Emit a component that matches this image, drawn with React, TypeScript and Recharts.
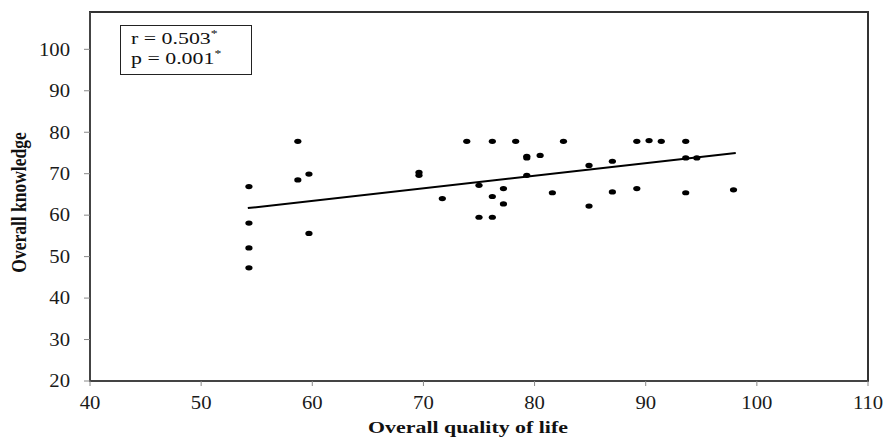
import React from "react";
import {
  Label,
  ReferenceArea,
  Scatter,
  ScatterChart,
  XAxis,
  YAxis,
} from "recharts";

// Overall quality of life (x) vs overall knowledge (y), one entry per participant
const qolValues = [
  54.3, 54.3, 54.3, 54.3, 58.7, 58.7, 59.7, 59.7, 69.6, 69.6, 71.7, 73.9,
  75.0, 75.0, 76.2, 76.2, 76.2, 77.2, 77.2, 78.3, 79.3, 79.3, 79.3, 80.5, 81.6,
  82.6, 84.9, 84.9, 87.0, 87.0, 89.2, 89.2, 90.3, 91.4, 93.6, 93.6, 93.6, 94.6,
  97.9,
];
const knowledgeValues = [
  66.9, 58.1, 52.1, 47.3, 77.8, 68.5, 69.9, 55.6, 70.3, 69.6, 64.0, 77.8, 67.2,
  59.5, 77.8, 64.5, 59.5, 66.4, 62.7, 77.8, 74.2, 73.8, 69.6, 74.4, 65.4, 77.8,
  72.0, 62.2, 73.0, 65.6, 77.8, 66.4, 78.0, 77.8, 77.8, 73.8, 65.4, 73.8, 66.1,
];

// fitted regression line end points
const trendX = [54.2, 98.1];
const trendY = [61.7, 75.0];

const xTicks = [40, 50, 60, 70, 80, 90, 100, 110];
const yTicks = [20, 30, 40, 50, 60, 70, 80, 90, 100];

const points = qolValues.map((x, i) => ({ x, y: knowledgeValues[i] }));
const trend = trendX.map((x, i) => ({ x, y: trendY[i] }));

const FONT = '"Liberation Serif", "Times New Roman", serif';
const TICK_STRETCH = 1.15;
const TITLE_STRETCH = 1.25;

function XTick({ x, y, payload }: any) {
  return (
    <g transform={`translate(${x},${y}) scale(${TICK_STRETCH},1)`}>
      <text textAnchor="middle" dy="0.71em" fontSize={18} fontFamily={FONT} fill="#1a1a1a">
        {payload.value}
      </text>
    </g>
  );
}

function YTick({ x, y, payload }: any) {
  return (
    <g transform={`translate(${x},${y}) scale(${TICK_STRETCH},1)`}>
      <text textAnchor="end" dy="0.35em" fontSize={18} fontFamily={FONT} fill="#1a1a1a">
        {payload.value}
      </text>
    </g>
  );
}

function Dot({ cx, cy }: any) {
  return <ellipse cx={cx} cy={cy} rx={3.6} ry={2.6} fill="#000" />;
}

export default function App() {
  return (
    <div style={{ position: "absolute", left: 0, top: 0, width: 888, height: 443, background: "#fff" }}>
      <ScatterChart
        width={888}
        height={443}
        margin={{ top: 12, right: 20, bottom: 22, left: 40 }}
      >
        <XAxis
          type="number"
          dataKey="x"
          domain={[40, 110]}
          ticks={xTicks}
          height={40}
          tick={<XTick />}
          tickSize={5}
          tickMargin={10}
          axisLine={{ stroke: "#444", strokeWidth: 2 }}
          tickLine={{ stroke: "#888" }}
        >
          <Label
            content={({ viewBox }: any) => (
              <g
                transform={`translate(${viewBox.x + viewBox.width / 2 - 11},${viewBox.y + 52}) scale(${TITLE_STRETCH},1)`}
              >
                <text textAnchor="middle" fontSize={17.5} fontWeight="bold" fontFamily={FONT} fill="#111">
                  Overall quality of life
                </text>
              </g>
            )}
          />
        </XAxis>
        <YAxis
          type="number"
          dataKey="y"
          domain={[20, 109]}
          ticks={yTicks}
          width={50}
          tick={<YTick />}
          tickSize={6}
          tickMargin={14}
          axisLine={{ stroke: "#444", strokeWidth: 2 }}
          tickLine={{ stroke: "#888" }}
        >
          <Label
            content={({ viewBox }: any) => (
              <g
                transform={`translate(${viewBox.x - 14},${viewBox.y + viewBox.height / 2 + 6}) rotate(-90) scale(1,${TITLE_STRETCH})`}
              >
                <text textAnchor="middle" fontSize={17.5} fontWeight="bold" fontFamily={FONT} fill="#111">
                  Overall knowledge
                </text>
              </g>
            )}
          />
        </YAxis>
        <ReferenceArea
          x1={40}
          x2={110}
          y1={20}
          y2={109}
          fill="none"
          stroke="#333"
          strokeWidth={2}
          ifOverflow="visible"
        />
        <Scatter
          data={trend}
          line={{ stroke: "#000", strokeWidth: 2 }}
          shape={() => null}
          isAnimationActive={false}
        />
        <Scatter data={points} shape={<Dot />} isAnimationActive={false} />
      </ScatterChart>
      <div
        style={{
          position: "absolute",
          left: 120,
          top: 25,
          width: 132,
          height: 50,
          boxSizing: "border-box",
          border: "1.5px solid #222",
          background: "#fff",
          fontFamily: FONT,
          fontSize: 17.5,
          lineHeight: "17.5px",
          color: "#111",
        }}
      >
        {["r = 0.503", "p = 0.001"].map((t, i) => (
          <span
            key={t}
            style={{
              position: "absolute",
              left: 10,
              top: 4 + i * 20,
              whiteSpace: "nowrap",
              transform: `scaleX(${TITLE_STRETCH})`,
              transformOrigin: "left",
            }}
          >
            {t}
            <span style={{ fontSize: 11, position: "relative", top: -7 }}>*</span>
          </span>
        ))}
      </div>
    </div>
  );
}
